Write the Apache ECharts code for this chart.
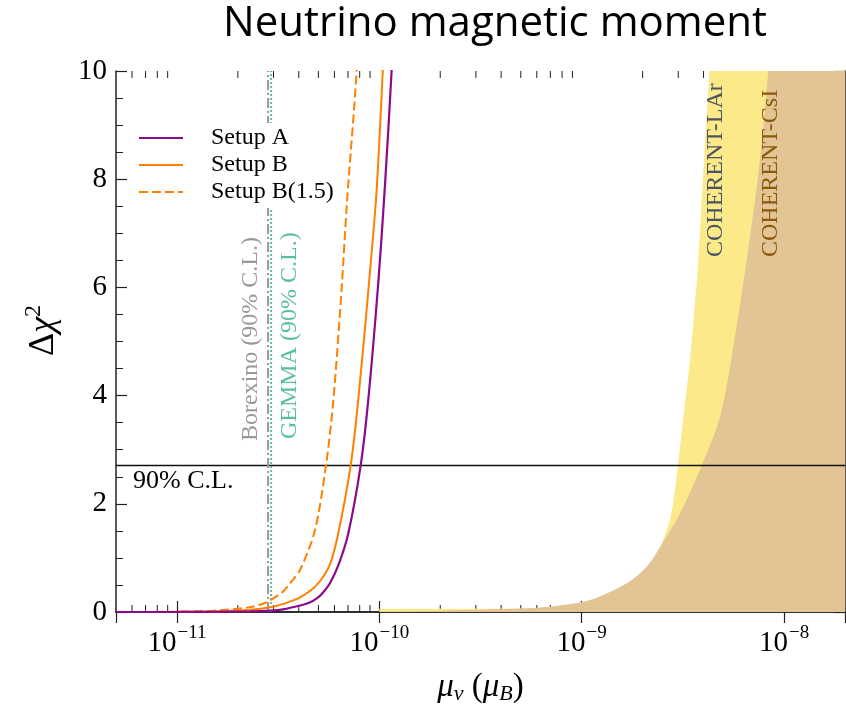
<!DOCTYPE html>
<html>
<head>
<meta charset="utf-8">
<script src="https://cdn.jsdelivr.net/npm/echarts@6/dist/echarts.min.js"></script>
<style>
  html, body { margin: 0; padding: 0; background: #fff; }
  #chart { width: 846px; height: 707px; }
</style>
</head>
<body>
<div id="chart"></div>
<script>
// Δχ² versus neutrino magnetic moment μν (in units of μB)

// Setup A (purple, solid)
const muSetupA  = [5e-12, 1e-11, 1.5e-11, 2.3e-11, 2.9e-11, 3.35e-11, 4.06e-11, 4.5e-11, 4.91e-11, 5.3e-11, 5.7e-11, 6.3e-11, 7.03e-11, 8.09e-11, 8.82e-11, 9.89e-11, 1.067e-10, 1.15e-10, 1.2e-10];
const chiSetupA = [0, 0.001, 0.003, 0.01, 0.025, 0.05, 0.12, 0.17, 0.25, 0.37, 0.53, 0.88, 1.455, 2.71, 3.92, 6.1, 7.9, 10, 11.5];

// Setup B (orange, solid)
const muSetupB  = [5e-12, 1e-11, 1.5e-11, 2.3e-11, 2.9e-11, 3.35e-11, 4.06e-11, 4.91e-11, 5.7e-11, 6.27e-11, 7.22e-11, 7.87e-11, 9.0e-11, 9.7e-11, 1.04e-10, 1.1e-10];
const chiSetupB = [0, 0.002, 0.008, 0.04, 0.087, 0.15, 0.27, 0.5, 0.88, 1.455, 2.71, 3.92, 6.3, 7.8, 10, 12];

// Setup B(1.5) (orange, dashed)
const muSetupB15  = [5e-12, 1e-11, 1.5e-11, 2.3e-11, 2.77e-11, 3.35e-11, 3.62e-11, 4.06e-11, 4.8e-11, 5.45e-11, 5.93e-11, 6.52e-11, 6.9e-11, 7.73e-11, 8.2e-11];
const chiSetupB15 = [0, 0.006, 0.025, 0.09, 0.18, 0.38, 0.53, 0.78, 1.5, 2.71, 3.92, 6.0, 7.5, 10, 12];

// COHERENT-LAr band (excluded region lies under the curve)
const muLAr  = [1e-10, 2e-10, 4e-10, 7e-10, 1e-9, 1.5e-9, 2e-9, 2.44e-9, 2.75e-9, 2.99e-9, 3.18e-9, 3.43e-9, 3.77e-9, 4.02e-9, 4.28e-9, 4.5e-9, 2e-8];
const chiLAr = [0.06, 0.06, 0.06, 0.08, 0.12, 0.3, 0.65, 1.2, 1.76, 2.71, 3.61, 4.66, 6.51, 8.35, 10, 11.5, 11.5];

// COHERENT-CsI band
const muCsI  = [1e-10, 2e-10, 4e-10, 6e-10, 7.8e-10, 1.1e-9, 1.67e-9, 2.1e-9, 2.44e-9, 3.0e-9, 3.92e-9, 4.83e-9, 5.5e-9, 6.54e-9, 7.6e-9, 8.35e-9, 9e-9, 2e-8];
const chiCsI = [0.01, 0.025, 0.055, 0.08, 0.12, 0.22, 0.53, 0.84, 1.2, 1.76, 2.71, 3.61, 4.7, 6.51, 8.35, 10, 11.5, 11.5];

// 90% C.L. limits (vertical lines)
const borexinoLimit = 2.82e-11;
const gemmaLimit = 2.92e-11;

// 90% C.L. threshold for one parameter
const cl90 = 2.71;

// Axis ranges and tick values
const xMin = 5e-12, xMax = 2e-8;
const yMin = 0, yMax = 10;
const xMinorTicks = [6e-12, 7e-12, 8e-12, 9e-12,
  2e-11, 3e-11, 4e-11, 5e-11, 6e-11, 7e-11, 8e-11, 9e-11,
  2e-10, 3e-10, 4e-10, 5e-10, 6e-10, 7e-10, 8e-10, 9e-10,
  2e-9, 3e-9, 4e-9, 5e-9, 6e-9, 7e-9, 8e-9, 9e-9];

const zip = (xs, ys) => xs.map((x, i) => [x, ys[i]]);

const SERIF = '"Liberation Serif", "DejaVu Serif", serif';
const AXIS_COLOR = '#222';

const chart = echarts.init(document.getElementById('chart'), null, { renderer: 'canvas' });

function decadeLabel(v) {
  const e = Math.log10(v);
  const r = Math.round(e);
  if (Math.abs(e - r) > 1e-6) return '';
  return '{b|10}{e|\u2212' + Math.abs(r) + '}';
}

function rotatedText(text, x, y, color) {
  return {
    type: 'text', x: x, y: y, rotation: Math.PI / 2, z: 100,
    style: { text: text, font: '24px ' + SERIF, fill: color,
      align: 'left', verticalAlign: 'middle', textAlign: 'left', textVerticalAlign: 'middle' }
  };
}

const axisCommon = {
  axisLine: { show: true, lineStyle: { color: AXIS_COLOR, width: 1.5 } },
  axisTick: { show: true, inside: true, length: 11, lineStyle: { color: AXIS_COLOR, width: 1.2 } },
  splitLine: { show: false }
};

const option = {
  animation: false,
  backgroundColor: '#fff',
  grid: { left: 116, right: 1, top: 71, bottom: 95, containLabel: false, outerBoundsMode: 'none' },
  xAxis: [
    Object.assign({
      type: 'log', logBase: 10, min: xMin, max: xMax,
      position: 'bottom',
      minorTick: { show: false },
      axisLabel: {
        showMinLabel: false, showMaxLabel: false, margin: 12,
        formatter: decadeLabel,
        rich: {
          b: { fontFamily: SERIF, fontSize: 29, color: '#000', verticalAlign: 'bottom', lineHeight: 34 },
          e: { fontFamily: SERIF, fontSize: 19, color: '#000', verticalAlign: 'top', lineHeight: 34, padding: [0, 0, 0, 1] }
        }
      },
      name: '{m|\u03bc}{s|\u03bd}{p| (}{m|\u03bc}{s|B}{p|)}',
      nameLocation: 'middle', nameGap: 57,
      nameTextStyle: {
        rich: {
          m: { fontFamily: SERIF, fontStyle: 'italic', fontSize: 33, color: '#000' },
          s: { fontFamily: SERIF, fontStyle: 'italic', fontSize: 22, color: '#000', padding: [14, 0, 0, 0] },
          p: { fontFamily: SERIF, fontSize: 33, color: '#000' }
        }
      }
    }, axisCommon),
    Object.assign({
      type: 'log', logBase: 10, min: xMin, max: xMax,
      position: 'top',
      axisLabel: { show: false }
    }, axisCommon)
  ],
  yAxis: [
    Object.assign({
      type: 'value', min: yMin, max: yMax, interval: 2,
      position: 'left',
      minorTick: { show: true, splitNumber: 4, length: 7, lineStyle: { color: AXIS_COLOR, width: 1 } },
      axisLabel: { fontFamily: SERIF, fontSize: 29, color: '#000', margin: 9 },
      name: '{d|\u0394}{c|\u03c7}{s|2}',
      nameLocation: 'middle', nameGap: 54, nameRotate: 90,
      nameTextStyle: {
        padding: [0, 0, 0, 22],
        rich: {
          d: { fontFamily: SERIF, fontSize: 36, color: '#000', verticalAlign: 'bottom', lineHeight: 40 },
          c: { fontFamily: SERIF, fontStyle: 'italic', fontSize: 36, color: '#000', verticalAlign: 'bottom', lineHeight: 40 },
          s: { fontFamily: SERIF, fontSize: 24, color: '#000', verticalAlign: 'top', lineHeight: 40 }
        }
      }
    }, axisCommon),
    Object.assign({
      type: 'value', min: yMin, max: yMax, interval: 2,
      position: 'right',
      minorTick: { show: true, splitNumber: 4, length: 7, lineStyle: { color: AXIS_COLOR, width: 1 } },
      axisLabel: { show: false }
    }, axisCommon)
  ],
  legend: {
    orient: 'vertical',
    left: 130, top: 123,
    padding: [3, 10, 4, 8],
    backgroundColor: '#fff',
    itemWidth: 44, itemHeight: 24, itemGap: 3,
    itemStyle: { opacity: 0 },
    data: ['Setup A', 'Setup B', 'Setup B(1.5)'],
    formatter: name => '{t|' + name + '}',
    textStyle: {
      rich: { t: { fontFamily: SERIF, fontSize: 24, color: '#000', lineHeight: 24, padding: [0, 0, 0, 23] } }
    }
  },
  graphic: [
    {
      type: 'text', x: 495, y: 3, z: 100,
      style: { text: 'Neutrino magnetic moment', font: '42px "Open Sans", sans-serif', fill: '#000',
        align: 'center', verticalAlign: 'top', textAlign: 'center', textVerticalAlign: 'top' }
    },
    rotatedText('Borexino (90% C.L.)', 251, 441, '#999999'),
    rotatedText('GEMMA (90% C.L.)', 290, 439, '#5cbf9c'),
    rotatedText('COHERENT-LAr', 716, 257, '#4b5560'),
    rotatedText('COHERENT-CsI', 771, 257, '#8a5a0a'),
    {
      type: 'text', x: 133, y: 481, z: 100,
      style: { text: '90% C.L.', font: '26px ' + SERIF, fill: '#000',
        align: 'left', verticalAlign: 'middle', textAlign: 'left', textVerticalAlign: 'middle' }
    }
  ],
  series: [
    {
      name: 'COHERENT-LAr', type: 'line', data: zip(muLAr, chiLAr),
      showSymbol: false, symbol: 'none', smooth: 0.3, silent: true,
      lineStyle: { width: 0, opacity: 0 },
      areaStyle: { color: '#fbe98a', opacity: 1, origin: 'start' }
    },
    {
      name: 'COHERENT-CsI', type: 'line', data: zip(muCsI, chiCsI),
      showSymbol: false, symbol: 'none', smooth: 0.3, silent: true,
      lineStyle: { width: 0, opacity: 0 },
      areaStyle: { color: '#e2c495', opacity: 1, origin: 'start' }
    },
    {
      name: 'minor ticks', type: 'custom', silent: true,
      data: xMinorTicks.map(v => [v, 0]),
      renderItem: (params, api) => {
        const v = api.value(0);
        const b = api.coord([v, yMin]);
        const t = api.coord([v, yMax]);
        const st = { stroke: AXIS_COLOR, lineWidth: 1 };
        return {
          type: 'group',
          children: [
            { type: 'line', shape: { x1: b[0], y1: b[1], x2: b[0], y2: b[1] - 7 }, style: st },
            { type: 'line', shape: { x1: t[0], y1: t[1], x2: t[0], y2: t[1] + 7 }, style: st }
          ]
        };
      }
    },
    {
      name: '90% C.L.', type: 'line', data: [[xMin, cl90], [xMax, cl90]],
      showSymbol: false, symbol: 'none', silent: true,
      lineStyle: { color: '#111', width: 1.5 }
    },
    {
      name: 'Borexino', type: 'line', data: [[borexinoLimit, yMin], [borexinoLimit, yMax]],
      showSymbol: false, symbol: 'none', silent: true,
      lineStyle: { color: '#999999', width: 2, type: [10, 3, 2, 3] }
    },
    {
      name: 'GEMMA', type: 'line', data: [[gemmaLimit, yMin], [gemmaLimit, yMax]],
      showSymbol: false, symbol: 'none', silent: true,
      lineStyle: { color: '#5cbf9c', width: 2, type: [2, 2] }
    },
    {
      name: 'Setup B(1.5)', type: 'line', data: zip(muSetupB15, chiSetupB15),
      showSymbol: false, symbol: 'none', smooth: 0.3,
      lineStyle: { color: '#ff8000', width: 2, type: [9, 4] },
      itemStyle: { color: '#ff8000' }
    },
    {
      name: 'Setup B', type: 'line', data: zip(muSetupB, chiSetupB),
      showSymbol: false, symbol: 'none', smooth: 0.3,
      lineStyle: { color: '#ff8000', width: 2 },
      itemStyle: { color: '#ff8000' }
    },
    {
      name: 'Setup A', type: 'line', data: zip(muSetupA, chiSetupA),
      showSymbol: false, symbol: 'none', smooth: 0.3,
      lineStyle: { color: '#8b0a8b', width: 2.2 },
      itemStyle: { color: '#8b0a8b' }
    }
  ]
};

chart.setOption(option);
</script>
</body>
</html>
